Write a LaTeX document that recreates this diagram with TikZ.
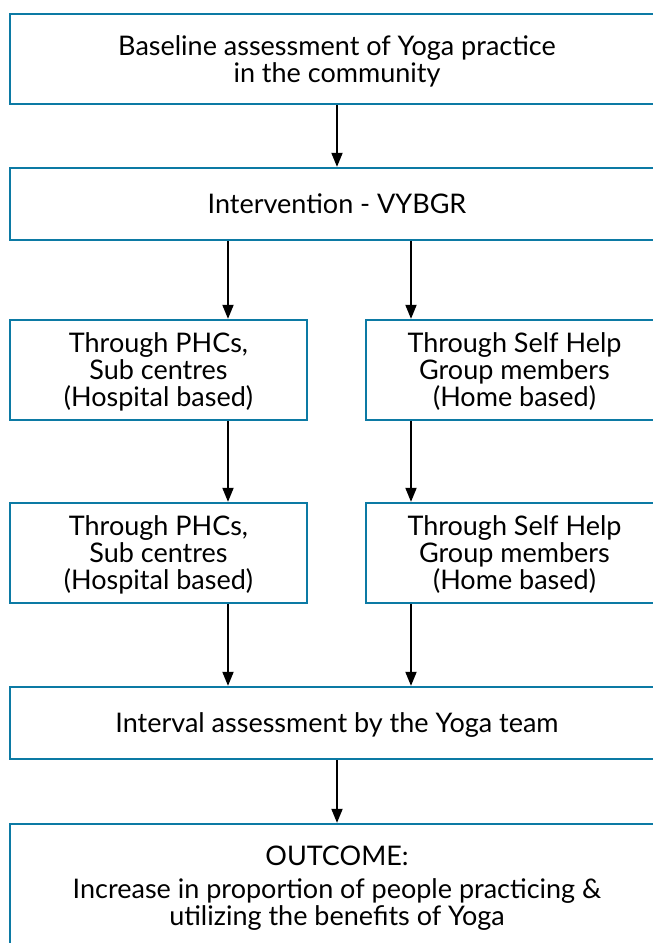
\documentclass[tikz,border=0pt]{standalone}
\usepackage{fontspec}
\setmainfont{Lato}
\usetikzlibrary{arrows.meta}
\definecolor{boxblue}{RGB}{12,122,164}
\tikzstyle{box} = [draw=boxblue, line width=2.3pt, align=center, inner sep=0pt, text depth=0pt, font=\fontsize{27}{27}\selectfont]
\tikzstyle{wide} = [box, minimum width=654pt]
\tikzstyle{half} = [box, minimum width=297pt, minimum height=100pt]
\tikzstyle{arr} = [-{Triangle[length=14pt,width=11pt]}, line width=1.8pt]

\begin{document}
\begin{tikzpicture}[x=1pt,y=-1pt]
      \useasboundingbox (0,0) rectangle (653,943);
      \clip (0,0) rectangle (653,943);
      \node[wide, minimum height=90pt] (base) at (337,59) {Baseline assessment of Yoga practice\\in the community};
      \node[wide, minimum height=72pt] (intv) at (337,204) {Intervention - VYBGR};
      \node[half] (hospA) at (158.5,370) {Through PHCs,\\Sub centres\\(Hospital based)};
      \node[half] (homeA) at (514.5,370) {Through Self Help\\Group members\\(Home based)};
      \node[half] (hospB) at (158.5,553) {Through PHCs,\\Sub centres\\(Hospital based)};
      \node[half] (homeB) at (514.5,553) {Through Self Help\\Group members\\(Home based)};
      \node[wide, minimum height=72pt] (intas) at (337,723) {Interval assessment by the Yoga team};
      \node[wide, minimum height=124pt] (outc) at (337,886) {OUTCOME:\\[6pt]Increase in proportion of people practicing \&\\utilizing the benefits of Yoga};
      \coordinate (colA) at (228,0);
      \coordinate (colB) at (411,0);
      \draw[arr] (base) -- (intv);
      \draw[arr] (intv.south -| colA) -- (hospA.north -| colA);
      \draw[arr] (intv.south -| colB) -- (homeA.north -| colB);
      \draw[arr] (hospA.south -| colA) -- (hospB.north -| colA);
      \draw[arr] (homeA.south -| colB) -- (homeB.north -| colB);
      \draw[arr] (hospB.south -| colA) -- (intas.north -| colA);
      \draw[arr] (homeB.south -| colB) -- (intas.north -| colB);
      \draw[arr] (intas) -- (outc);
    \end{tikzpicture}
\end{document}
